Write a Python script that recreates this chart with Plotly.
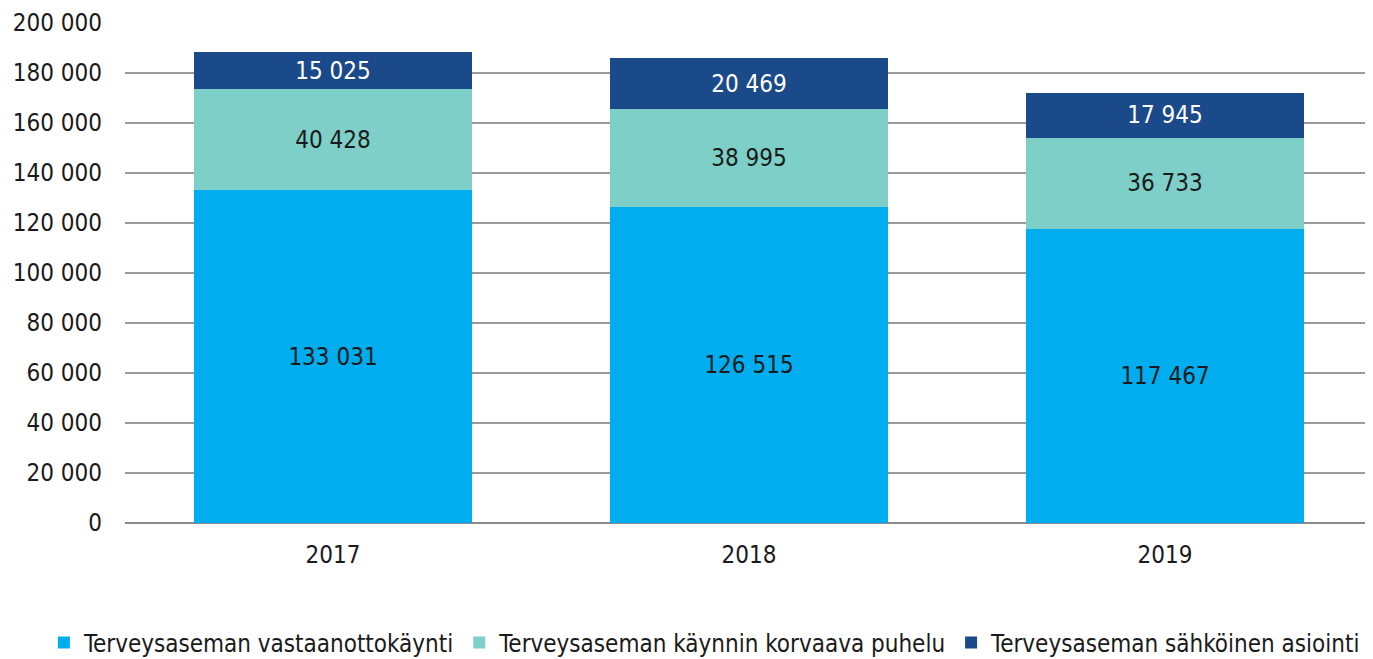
import plotly.graph_objects as go

years = ["2017", "2018", "2019"]
vastaanotto = [133031, 126515, 117467]
puhelu = [40428, 38995, 36733]
sahkoinen = [15025, 20469, 17945]

names = ["Terveysaseman vastaanottokäynti",
         "Terveysaseman käynnin korvaava puhelu",
         "Terveysaseman sähköinen asiointi"]
colors = ["#00ADEE", "#7ECFC8", "#1B4A8A"]
text_colors = ["#1a1a1a", "#1a1a1a", "#ffffff"]
FONT = "DejaVu Sans Condensed, Liberation Sans Narrow, Arial Narrow, sans-serif"

fig = go.Figure()
for vals, name, col, tc in zip([vastaanotto, puhelu, sahkoinen], names, colors, text_colors):
    fig.add_trace(go.Bar(
        x=years, y=vals, name=name,
        marker=dict(color=col, line=dict(width=0)),
        texttemplate="%{y:,d}", textposition="inside",
        insidetextanchor="middle",
        textfont=dict(color=tc, size=24, family=FONT),
        hoverinfo="skip",
    ))

fig.update_layout(
    barmode="stack",
    bargap=0.33,
    separators=", ",
    width=1365, height=651,
    margin=dict(l=117, r=0, t=15, b=136, autoexpand=False),
    plot_bgcolor="white", paper_bgcolor="white",
    font=dict(family=FONT, size=24, color="#1a1a1a"),
    showlegend=True,
    legend=dict(orientation="h", x=-0.065, xanchor="left", y=-0.24, yanchor="middle",
                font=dict(size=24, family=FONT), itemwidth=30, tracegroupgap=0,
                traceorder="normal"),
    uniformtext=dict(mode="show", minsize=10),
)
fig.update_yaxes(range=[0, 200000], dtick=20000, tickformat=",d", automargin=False,
                 showgrid=True, gridcolor="#9a9a9a", gridwidth=1.5,
                 zeroline=True, zerolinecolor="#8a8a8a", zerolinewidth=2,
                 showline=False, ticks="", ticklabelstandoff=22,
                 tickfont=dict(size=24, family=FONT))
fig.update_xaxes(showgrid=False, showline=False, ticks="", automargin=False,
                 tickfont=dict(size=24, family=FONT), ticklabelstandoff=15)

fig.write_html("out.html")
